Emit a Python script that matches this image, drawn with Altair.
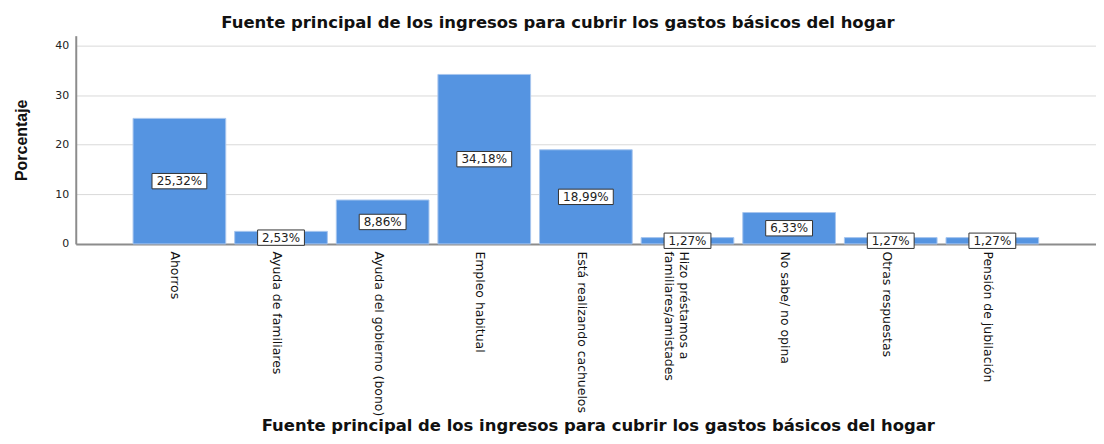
import altair as alt
import pandas as pd

categories = [
    "Ahorros",
    "Ayuda de familiares",
    "Ayuda del gobierno (bono)",
    "Empleo habitual",
    "Está realizando cachuelos",
    "Hizo préstamos a\nfamiliares/amistades",
    "No sabe/ no opina",
    "Otras respuestas",
    "Pensión de jubilación",
]
percentages = [25.32, 2.53, 8.86, 34.18, 18.99, 1.27, 6.33, 1.27, 1.27]
y_ticks = [0, 10, 20, 30, 40]
title_text = "Fuente principal de los ingresos para cubrir los gastos básicos del hogar"
y_title = "Porcentaje"

df = pd.DataFrame({"cat": categories, "pct": percentages})
df["label"] = [f"{v:.2f}".replace(".", ",") + "%" for v in percentages]

x_axis = alt.Axis(
    title=title_text,
    labelAngle=90, labelAlign="left", labelBaseline="middle",
    labelPadding=7, labelOffset=-4, ticks=False,
    labelExpr="split(datum.label, '\\n')",
    labelFont="DejaVu Sans", labelFontSize=12.5, labelColor="#111",
    labelLimit=400, labelLineHeight=15,
    domainColor="#8c8c8c", domainWidth=2, grid=False,
    titleFont="DejaVu Sans", titleFontSize=16.5, titleFontWeight="bold",
    titleColor="#111", titleX=524, titleY=187, titleAlign="center",
    titleBaseline="alphabetic", titleAngle=0,
)
x_scale = alt.Scale(paddingInner=0.088, paddingOuter=0.564)
x = alt.X("cat:N", sort=categories, scale=x_scale, axis=x_axis)

y_scale = alt.Scale(domain=[0, 42], nice=False)
y_axis = alt.Axis(
    values=y_ticks, title=y_title, ticks=False, labelPadding=7,
    labelFont="DejaVu Sans", labelFontSize=11, labelColor="#222",
    gridColor="#d9d9d9", gridWidth=1, domainColor="#8c8c8c", domainWidth=2,
    titleFont="Liberation Sans Narrow, Arial Narrow, Liberation Sans, sans-serif",
    titleFontSize=16, titleFontWeight="bold",
    titleColor="#111", titleX=-54, titleY=104.5, titleAlign="center",
    titleBaseline="middle", titleAngle=270,
)

base = alt.Chart(df)

bars = base.mark_bar(color="#5594e1", stroke="#a8c6ee", strokeWidth=1).encode(
    x=x, y=alt.Y("pct:Q", scale=y_scale, axis=y_axis)
)

boxes = base.transform_calculate(
    lo="datum.pct / 2 - 1.55", hi="datum.pct / 2 + 1.55"
)
box_wide = boxes.transform_filter("datum.pct >= 10").mark_bar(
    width=55, fill="white", stroke="#333333", strokeWidth=1
).encode(x=x, y=alt.Y("lo:Q", scale=y_scale, axis=y_axis), y2="hi:Q")
box_narrow = boxes.transform_filter("datum.pct < 10").mark_bar(
    width=47, fill="white", stroke="#333333", strokeWidth=1
).encode(x=x, y=alt.Y("lo:Q", scale=y_scale, axis=y_axis), y2="hi:Q")

texts = base.transform_calculate(mid="datum.pct / 2").mark_text(
    font="DejaVu Sans", fontSize=12, color="#222", baseline="middle", align="center"
).encode(x=x, y=alt.Y("mid:Q", scale=y_scale, axis=y_axis), text="label:N")

chart = alt.layer(bars, box_wide, box_narrow, texts).properties(
    width=1024,
    height=209,
    padding={"left": 68, "top": 27, "right": 0, "bottom": 190},
    autosize=alt.AutoSizeParams(type="none"),
    background="white",
    title=alt.TitleParams(
        text=title_text, font="DejaVu Sans", fontSize=16.5, fontWeight="bold",
        color="#111", anchor="middle", dx=-28, offset=4,
    ),
).configure_view(stroke=None)

chart.save("out.html", embed_options={"renderer": "svg", "actions": False})
